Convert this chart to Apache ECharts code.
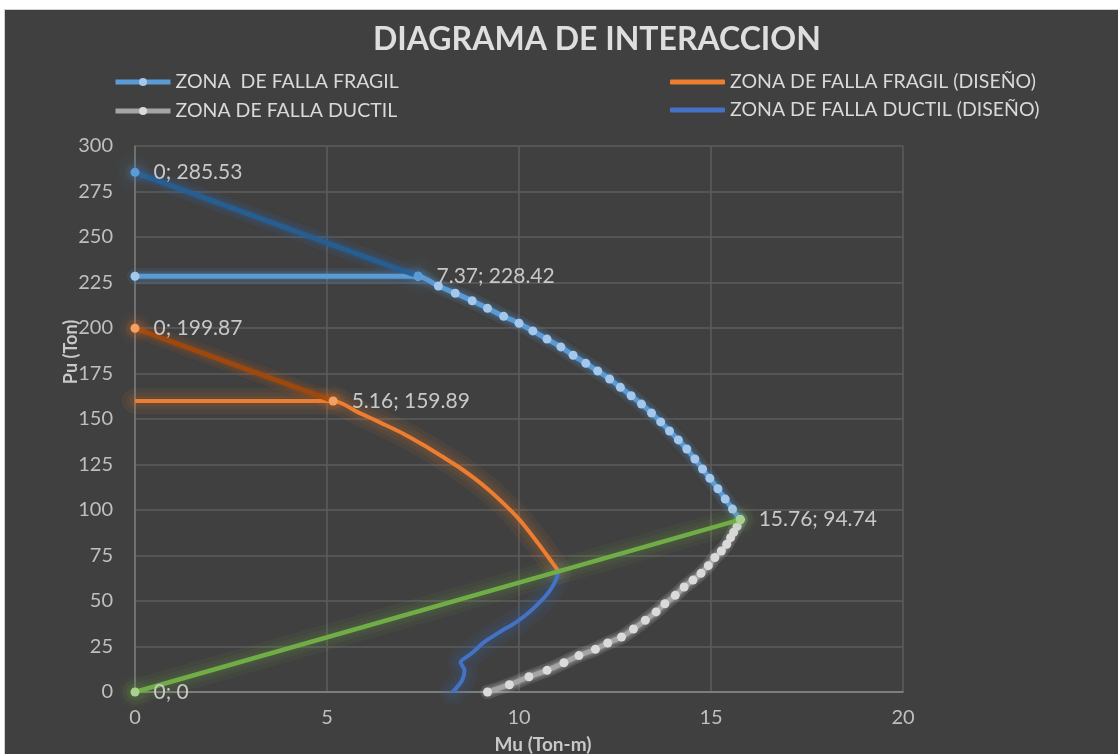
<!DOCTYPE html>
<html>
<head>
<meta charset="utf-8">
<script src="https://cdn.jsdelivr.net/npm/echarts@6/dist/echarts.min.js"></script>
<style>
  html, body { margin: 0; padding: 0; background: #ffffff; width: 1118px; height: 754px; overflow: hidden; }
  #frame { position: absolute; left: 4px; top: 9px; width: 1120px; height: 750px; background: #404040; border: 1px solid #d0d0d0; }
  #chart { position: absolute; left: 0; top: 0; width: 1118px; height: 754px; }
</style>
</head>
<body>
<div id="frame"></div>
<div id="chart"></div>
<script>
// Interaction diagram: Mu (Ton-m) vs Pu (Ton)

// Nominal brittle-failure zone (horizontal cap + curve down to balance point)
const fragilM = [0, 7.37, 7.90, 8.34, 8.78, 9.18, 9.60, 10.00, 10.36, 10.73, 11.09, 11.41, 11.74, 12.05, 12.36, 12.64, 12.92, 13.19, 13.45, 13.69, 13.92, 14.15, 14.37, 14.58, 14.78, 14.97, 15.18, 15.37, 15.56, 15.76];
const fragilP = [228.42, 228.42, 223.1, 219.1, 215.0, 210.8, 206.4, 202.6, 198.4, 193.9, 189.6, 185.0, 180.6, 176.4, 172.0, 167.4, 162.8, 158.2, 153.3, 148.4, 143.4, 138.5, 133.5, 128.0, 122.5, 117.4, 111.7, 106.0, 100.5, 94.74];

// Nominal pure compression to capped axial load
const compM = [0, 7.37];
const compP = [285.53, 228.42];

// Design brittle-failure zone
const fragilDisM = [0, 5.16, 5.84, 6.43, 7.00, 7.51, 7.99, 8.44, 8.85, 9.23, 9.58, 9.91, 10.21, 10.48, 10.76, 11.03];
const fragilDisP = [159.89, 159.89, 153.4, 147.6, 141.8, 135.7, 129.5, 123.5, 117.2, 110.7, 103.9, 97.0, 89.6, 82.2, 74.2, 66.32];

// Design pure compression to capped axial load
const compDisM = [0, 5.16];
const compDisP = [199.87, 159.89];

// Nominal ductile-failure zone (balance point down to pure flexure)
const ductilM = [15.76, 15.68, 15.59, 15.51, 15.41, 15.27, 15.10, 14.93, 14.74, 14.53, 14.30, 14.07, 13.80, 13.57, 13.29, 12.98, 12.67, 12.31, 11.99, 11.56, 11.17, 10.73, 10.26, 9.75, 9.18];
const ductilP = [94.74, 91.0, 87.8, 84.8, 81.2, 77.5, 73.9, 69.4, 65.2, 61.5, 57.7, 53.1, 48.5, 44.0, 39.4, 34.6, 30.2, 26.9, 23.5, 20.0, 16.1, 11.9, 8.4, 4.0, 0];

// Design ductile-failure zone
const ductilDisM = [11.03, 10.95, 10.78, 10.55, 10.25, 9.90, 9.50, 9.10, 8.75, 8.52, 8.48, 8.58, 8.52, 8.27];
const ductilDisP = [66.32, 61.0, 55.0, 49.5, 43.5, 38.0, 33.0, 27.5, 21.0, 17.6, 16.3, 12.0, 6.5, 0];

// Origin to balance point
const balM = [0, 15.76];
const balP = [0, 94.74];

const xTicks = { min: 0, max: 20, step: 5 };
const yTicks = { min: 0, max: 300, step: 25 };

const legendLeft = ['ZONA  DE FALLA FRAGIL', 'ZONA DE FALLA DUCTIL'];
const legendRight = ['ZONA DE FALLA FRAGIL (DISEÑO)', 'ZONA DE FALLA DUCTIL (DISEÑO)'];

const pairs = (xs, ys) => xs.map((x, i) => [x, ys[i]]);
const FONT = 'Lato, "Open Sans", sans-serif';
const pointLabel = {
  show: true, position: 'right', distance: 14,
  color: '#c8c8c8', fontSize: 21, fontFamily: FONT,
  formatter: p => p.value[0] + '; ' + p.value[1]
};
const legendText = { color: '#d9d9d9', fontSize: 19.5, fontFamily: FONT };

// Soft halo drawn beneath a line: the same points stroked in layered translucent bands
function halo(xs, ys, rgb, smooth, width, alpha) {
  return [1, 0.6, 0.3].map((f, k) => ({
    type: 'line', data: pairs(xs, ys), smooth: smooth, symbol: 'none', silent: true,
    lineStyle: {
      color: `rgba(${rgb},${alpha})`, width: width * f + 4,
      shadowBlur: 10, shadowColor: `rgba(${rgb},${alpha})`, cap: 'round', join: 'round'
    },
    z: 1
  }));
}

const chart = echarts.init(document.getElementById('chart'), null, { renderer: 'canvas' });

chart.setOption({
  backgroundColor: 'transparent',
  animation: false,
  title: {
    text: 'DIAGRAMA DE INTERACCION',
    left: 368, top: 19,
    textStyle: { color: '#dedede', fontSize: 32, fontWeight: 'bold', fontFamily: FONT }
  },
  legend: [
    {
      data: legendLeft, left: 108, top: 67, orient: 'vertical', itemGap: 9,
      itemWidth: 55, itemHeight: 10,
      lineStyle: { width: 5 },
      textStyle: legendText
    },
    {
      data: legendRight.map(n => ({ name: n, icon: 'roundRect' })),
      left: 665, top: 67, orient: 'vertical', itemGap: 8,
      itemWidth: 55, itemHeight: 5,
      textStyle: legendText
    }
  ],
  grid: { left: 135, right: 215, top: 146, bottom: 62 },
  xAxis: {
    type: 'value', min: xTicks.min, max: xTicks.max, interval: xTicks.step,
    axisLine: { show: true, lineStyle: { color: '#8a8a8a', width: 1.5 } },
    axisTick: { show: false },
    axisLabel: { color: '#bfbfbf', fontSize: 20, fontFamily: FONT, margin: 16 },
    splitLine: { show: true, lineStyle: { color: '#5c5c5c', width: 1.5 } }
  },
  yAxis: {
    type: 'value', min: yTicks.min, max: yTicks.max, interval: yTicks.step,
    axisLine: { show: true, lineStyle: { color: '#7a7a7a', width: 1.5 } },
    axisTick: { show: false },
    axisLabel: { color: '#bfbfbf', fontSize: 20, fontFamily: FONT, margin: 22 },
    splitLine: { show: true, lineStyle: { color: '#5c5c5c', width: 1.5 } }
  },
  graphic: [
    {
      type: 'text', x: 543, y: 745,
      style: { text: 'Mu (Ton-m)', fill: '#c8c8c8', font: 'bold 19px ' + FONT, textAlign: 'center', textVerticalAlign: 'middle' }
    },
    {
      type: 'text', x: 71, y: 352, rotation: Math.PI / 2,
      style: { text: 'Pu (Ton)', fill: '#c8c8c8', font: 'bold 18px ' + FONT, textAlign: 'center', textVerticalAlign: 'middle' }
    }
  ],
  series: [
    ...halo(fragilM, fragilP, '91,155,213', 0.25, 12, 0.12),
    ...halo(compM, compP, '60,120,190', false, 14, 0.1),
    ...halo(fragilDisM, fragilDisP, '237,125,49', 0.3, 22, 0.07),
    ...halo(compDisM, compDisP, '200,100,30', false, 14, 0.1),
    ...halo(ductilM, ductilP, '240,240,240', 0.3, 10, 0.12),
    ...halo(ductilDisM, ductilDisP, '68,114,196', 0.3, 22, 0.08),
    ...halo(balM, balP, '112,173,71', false, 22, 0.07),
    {
      name: 'ZONA  DE FALLA FRAGIL', type: 'line', data: pairs(fragilM, fragilP),
      smooth: 0.25, symbol: 'circle', symbolSize: 9, showSymbol: true,
      lineStyle: { color: '#5b9bd5', width: 5 },
      itemStyle: { color: '#a4c8ec' },
      z: 2
    },
    {
      name: 'Compresión nominal', type: 'line', data: pairs(compM, compP),
      symbol: 'circle', symbolSize: 9,
      lineStyle: { color: '#255e91', width: 5 },
      itemStyle: { color: '#5b9bd5', shadowBlur: 16, shadowColor: 'rgba(91,155,213,1)' },
      label: pointLabel,
      z: 3
    },
    {
      name: 'ZONA DE FALLA FRAGIL (DISEÑO)', type: 'line', data: pairs(fragilDisM, fragilDisP),
      smooth: 0.3, symbol: 'none',
      lineStyle: { color: '#ed7d31', width: 4 },
      itemStyle: { color: '#ed7d31' },
      z: 4
    },
    {
      name: 'Compresión de diseño', type: 'line', data: pairs(compDisM, compDisP),
      symbol: 'circle', symbolSize: 9,
      lineStyle: { color: '#9e480e', width: 5 },
      itemStyle: { color: '#f4a064', shadowBlur: 14, shadowColor: 'rgba(237,125,49,1)' },
      label: pointLabel,
      z: 5
    },
    {
      name: 'ZONA DE FALLA DUCTIL', type: 'line', data: pairs(ductilM, ductilP),
      smooth: 0.3, symbol: 'circle', symbolSize: 9, showSymbol: true,
      lineStyle: { color: '#a5a5a5', width: 5 },
      itemStyle: { color: '#dadada' },
      z: 6
    },
    {
      name: 'ZONA DE FALLA DUCTIL (DISEÑO)', type: 'line', data: pairs(ductilDisM, ductilDisP),
      smooth: 0.3, symbol: 'none',
      lineStyle: { color: '#4472c4', width: 4 },
      itemStyle: { color: '#4472c4' },
      z: 7
    },
    {
      name: 'Punto balanceado', type: 'line', data: pairs(balM, balP),
      symbol: 'circle', symbolSize: 9,
      lineStyle: { color: '#70ad47', width: 4.5 },
      itemStyle: { color: '#a9d18e', shadowBlur: 16, shadowColor: 'rgba(112,173,71,1)' },
      label: pointLabel,
      z: 8
    }
  ]
});
</script>
</body>
</html>
